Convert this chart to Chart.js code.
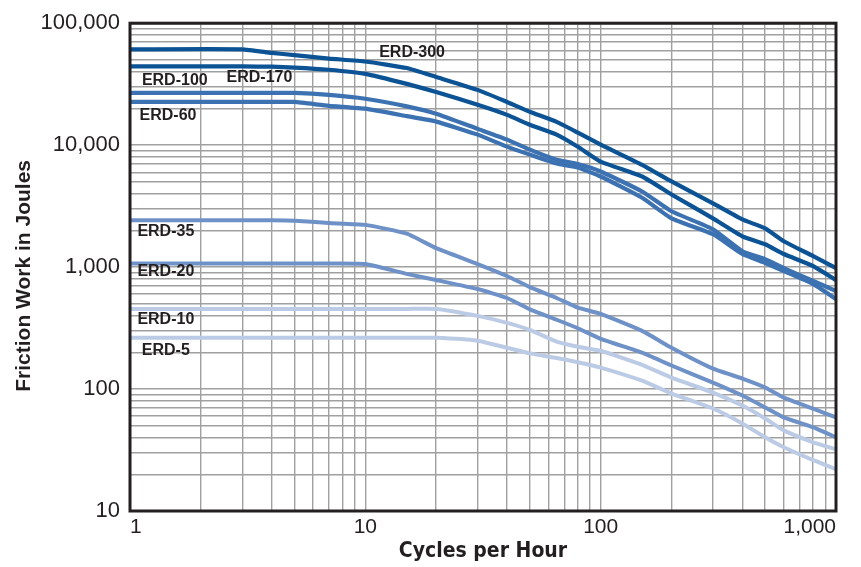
<!DOCTYPE html>
<html>
<head>
<meta charset="utf-8">
<script src="https://cdn.jsdelivr.net/npm/chart.js@4/dist/chart.umd.min.js"></script>
<style>
  body { margin: 0; background: #fff; }
  canvas { display: block; }
</style>
</head>
<body>
<canvas id="chart" width="861" height="567"></canvas>
<script>
// cycles per hour, shared by every curve
const cycles = [1, 3, 4, 5, 7, 10, 15, 20, 30, 40, 50, 65, 80, 100, 150, 200, 300, 400, 500, 600, 800, 1000];

// friction work in joules
const erd300 = [61000, 61000, 57100, 54800, 51300, 48500, 42900, 36200, 28400, 22600, 18800, 15500, 12650, 10100, 6900, 5040, 3330, 2460, 2080, 1630, 1230, 980];
const erd170 = [44200, 44200, 44000, 43300, 41500, 38400, 31800, 27300, 21400, 17700, 14700, 12200, 9700, 7330, 5530, 3940, 2510, 1790, 1540, 1280, 1020, 783];
const erd100 = [26800, 26800, 26800, 26800, 25800, 24000, 20800, 18100, 13600, 11100, 9190, 7600, 7000, 6080, 4170, 2870, 2040, 1350, 1160, 982, 769, 637];
const erd60 = [22600, 22600, 22600, 22600, 21000, 19900, 17300, 15600, 12200, 9720, 8360, 7060, 6550, 5530, 3700, 2510, 1860, 1280, 1080, 927, 726, 548];
const erd35 = [2420, 2420, 2420, 2400, 2300, 2220, 1880, 1430, 1060, 845, 685, 558, 465, 413, 300, 218, 147, 122, 103, 85, 69, 58.5];
const erd20 = [1070, 1070, 1070, 1070, 1070, 1060, 880, 783, 661, 558, 450, 370, 315, 258, 199, 156, 113, 88.5, 70.6, 58.5, 48.5, 40.2];
const erd10 = [454, 454, 454, 454, 454, 454, 454, 454, 398, 349, 305, 245, 222, 206, 158, 124, 93.6, 73.3, 57.4, 45.8, 36.6, 32.1];
const erd5 = [263, 263, 263, 263, 263, 263, 263, 263, 249, 218, 196, 180, 166, 150, 117, 91.9, 69.3, 52.3, 40.2, 33.3, 26.1, 22];

const seriesNames = ["ERD-300", "ERD-170", "ERD-100", "ERD-60", "ERD-35", "ERD-20", "ERD-10", "ERD-5"];
const seriesValues = [erd300, erd170, erd100, erd60, erd35, erd20, erd10, erd5];

// where each curve name sits, in chart units
const labelCycles = [15.8, 3.55, 1.55, 1.45, 1.42, 1.42, 1.42, 1.42];
const labelJoules = [57900, 35900, 33900, 17600, 1970, 927, 369, 208];

const xTickLabels = [1, 10, 100, 1000];
const yTickLabels = [10, 100, 1000, 10000, 100000];

const colors = ["#0b5394", "#0b5394", "#3c72b2", "#3c72b2", "#6e91c7", "#6e91c7", "#bccbe5", "#bccbe5"];
const widths = [4.2, 4.2, 4.2, 4.2, 4, 4, 4, 4];

function gridValues(decades) {
  const out = [];
  for (let i = 0; i < decades.length - 1; i++) {
    for (let k = 1; k < 10; k++) out.push(decades[i] * k);
  }
  out.push(decades[decades.length - 1]);
  return out;
}

const xGrid = gridValues(xTickLabels);
const yGrid = gridValues(yTickLabels);

const fmt = (v) => v.toLocaleString("en-US");

Chart.defaults.font.family = '"Liberation Sans", Arial, Helvetica, sans-serif';
Chart.defaults.color = "#231f20";

const frame = {
  id: "frame",
  afterDraw(chart) {
    const { ctx, chartArea: a } = chart;
    ctx.save();
    ctx.strokeStyle = "#231f20";
    ctx.lineWidth = 3;
    ctx.strokeRect(a.left, a.top, a.right - a.left, a.bottom - a.top);
    ctx.restore();
  },
};

const curveNames = {
  id: "curveNames",
  afterDatasetsDraw(chart) {
    const { ctx, scales } = chart;
    ctx.save();
    ctx.font = "bold 16px 'Liberation Sans', Arial, sans-serif";
    ctx.fillStyle = "#231f20";
    ctx.textAlign = "center";
    ctx.textBaseline = "middle";
    seriesNames.forEach((name, i) => {
      ctx.fillText(name, scales.x.getPixelForValue(labelCycles[i]), scales.y.getPixelForValue(labelJoules[i]));
    });
    ctx.restore();
  },
};

new Chart(document.getElementById("chart"), {
  type: "line",
  data: {
    datasets: seriesNames.map((name, i) => ({
      label: name,
      data: cycles.map((c, j) => ({ x: c, y: seriesValues[i][j] })),
      borderColor: colors[i],
      borderWidth: widths[i],
      pointRadius: 0,
      tension: 0.15,
      fill: false,
    })),
  },
  options: {
    responsive: false,
    animation: false,
    layout: { padding: { top: 21, right: 25, left: 0, bottom: 0 } },
    plugins: { legend: { display: false }, tooltip: { enabled: false } },
    scales: {
      x: {
        type: "logarithmic",
        min: 1,
        max: 1000,
        afterBuildTicks: (s) => { s.ticks = xGrid.map((v) => ({ value: v })); },
        afterFit: (s) => { s.height = 56; },
        grid: { color: "#a0a0a0", lineWidth: 1.4, drawTicks: false },
        border: { display: false },
        ticks: {
          autoSkip: false,
          maxRotation: 0,
          align: "inner",
          padding: 4,
          font: { size: 21, family: '"Liberation Sans Narrow", "Liberation Sans", Arial, sans-serif' },
          callback: (v) => (xTickLabels.includes(v) ? fmt(v) : ""),
        },
        title: {
          display: true,
          text: "Cycles per Hour",
          font: { size: 21, weight: "bold", family: '"Liberation Sans Narrow", "DejaVu Sans Condensed", "Liberation Sans", Arial, sans-serif' },
          padding: { bottom: 3 },
        },
      },
      y: {
        type: "logarithmic",
        min: 10,
        max: 100000,
        afterBuildTicks: (s) => { s.ticks = yGrid.map((v) => ({ value: v })); },
        afterFit: (s) => { s.width = 130; },
        grid: { color: "#a0a0a0", lineWidth: 1.4, drawTicks: false },
        border: { display: false },
        ticks: {
          autoSkip: false,
          padding: 10,
          font: { size: 22 },
          callback: (v) => (yTickLabels.includes(v) ? fmt(v) : ""),
        },
        title: { display: true, text: "Friction Work in Joules   ", font: { size: 21, weight: "bold" }, padding: { top: 12 } },
      },
    },
  },
  plugins: [frame, curveNames],
});
</script>
</body>
</html>
